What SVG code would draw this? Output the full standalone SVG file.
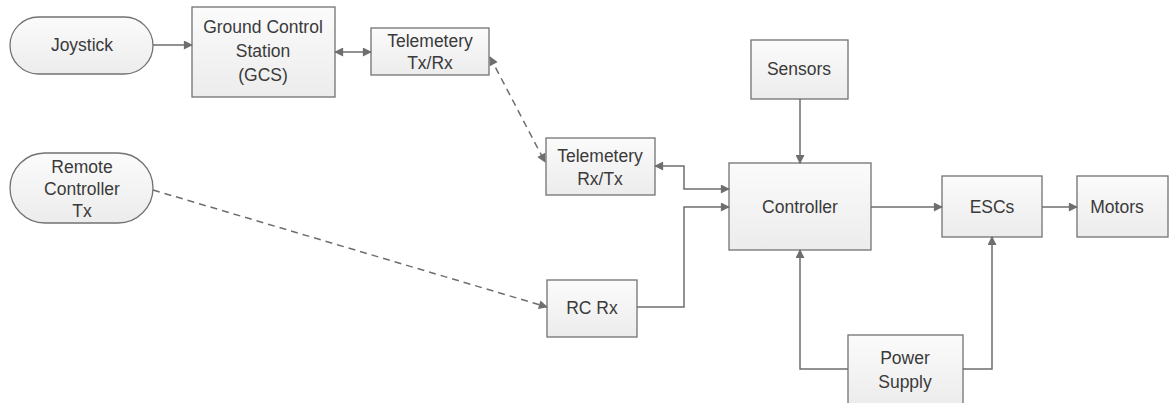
<svg xmlns="http://www.w3.org/2000/svg" width="1174" height="403" viewBox="0 0 1174 403">
<style>
.box{fill:url(#g);stroke:#727272;stroke-width:1.3}
.t{font-family:"Liberation Sans",Arial,sans-serif;font-size:17.5px;fill:#3a3a3a;text-anchor:middle}
.c{fill:none;stroke:#6e6e6e;stroke-width:1.5}
.d{stroke-dasharray:7,5}
</style>
<defs>
<linearGradient id="g" x1="0" y1="0" x2="0" y2="1"><stop offset="0" stop-color="#fbfbfb"/><stop offset="1" stop-color="#ececec"/></linearGradient>
<marker id="a" viewBox="0 0 10 10" refX="9" refY="5" markerWidth="10" markerHeight="9" markerUnits="userSpaceOnUse" orient="auto-start-reverse"><path d="M0,0 L10,5 L0,10 z" fill="#6e6e6e"/></marker>
</defs>
<rect width="1174" height="403" fill="#fff"/>
<g id="joystick"><rect class="box" x="10" y="17" width="143" height="57" rx="28.5"/><text class="t" x="82" y="51">Joystick</text></g>
<g id="gcs"><rect class="box" x="192" y="7" width="143" height="90"/><text class="t" x="263" y="33">Ground Control</text><text class="t" x="263" y="57">Station</text><text class="t" x="263" y="81">(GCS)</text></g>
<g id="teltx"><rect class="box" x="371" y="28" width="118" height="47"/><text class="t" x="430" y="47">Telemetery</text><text class="t" x="430" y="69">Tx/Rx</text></g>
<g id="remote"><rect class="box" x="10" y="153" width="143" height="70" rx="35"/><text class="t" x="82" y="173">Remote</text><text class="t" x="82" y="195">Controller</text><text class="t" x="82" y="217">Tx</text></g>
<g id="telrx"><rect class="box" x="546" y="138" width="109" height="57"/><text class="t" x="600" y="162">Telemetery</text><text class="t" x="600" y="185">Rx/Tx</text></g>
<g id="rcrx"><rect class="box" x="547" y="280" width="90" height="57"/><text class="t" x="592" y="314">RC Rx</text></g>
<g id="sensors"><rect class="box" x="751" y="40" width="97" height="59"/><text class="t" x="799" y="75">Sensors</text></g>
<g id="controller"><rect class="box" x="729" y="163" width="142" height="87"/><text class="t" x="800" y="213">Controller</text></g>
<g id="escs"><rect class="box" x="942" y="176" width="100" height="61"/><text class="t" x="992" y="213">ESCs</text></g>
<g id="motors"><rect class="box" x="1077" y="176" width="91" height="61"/><text class="t" x="1117" y="213">Motors</text></g>
<g id="power"><rect class="box" x="848" y="335" width="115" height="70"/><text class="t" x="905" y="364">Power</text><text class="t" x="905" y="388">Supply</text></g>
<g id="connectors">
<path class="c" d="M153,45 H192" marker-end="url(#a)"/>
<path class="c" d="M335,52 H371" marker-start="url(#a)" marker-end="url(#a)"/>
<path class="c d" d="M490,57 L545,162" marker-start="url(#a)" marker-end="url(#a)"/>
<path class="c d" d="M153,190 L547,307" marker-end="url(#a)"/>
<path class="c" d="M655,166 H684 V189 H729" marker-start="url(#a)" marker-end="url(#a)"/>
<path class="c" d="M637,307 H684 V207 H729" marker-end="url(#a)"/>
<path class="c" d="M800,99 V163" marker-end="url(#a)"/>
<path class="c" d="M871,207 H942" marker-end="url(#a)"/>
<path class="c" d="M1042,207 H1077" marker-end="url(#a)"/>
<path class="c" d="M848,369 H800 V250" marker-end="url(#a)"/>
<path class="c" d="M963,369 H992 V237" marker-end="url(#a)"/>
</g>
</svg>
